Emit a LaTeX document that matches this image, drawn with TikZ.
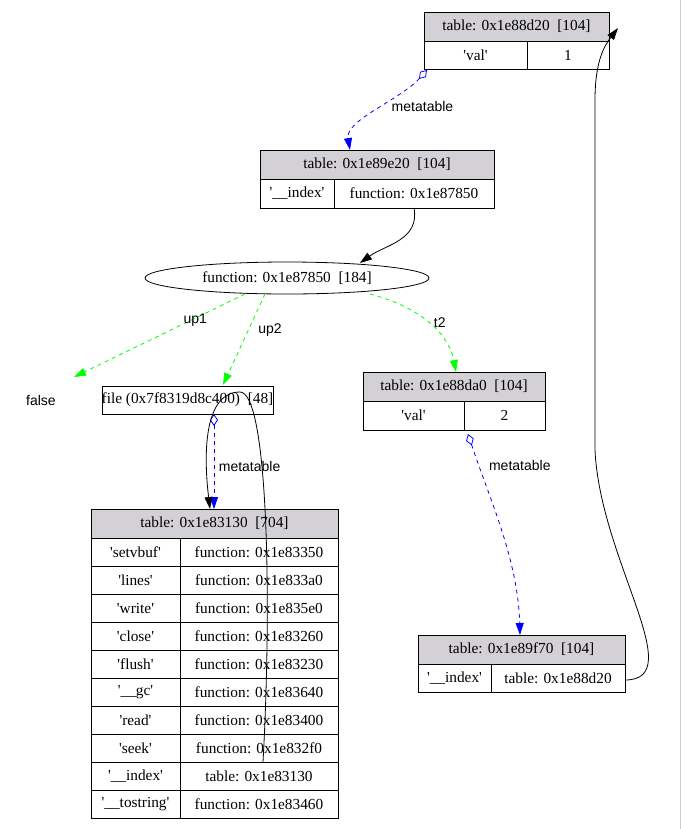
\documentclass[tikz,border=0pt]{standalone}
\usepackage{fontspec}
\setmainfont{Liberation Serif}
\newfontfamily\lsans{Liberation Sans}
\usetikzlibrary{arrows.meta,shapes.geometric}
\definecolor{hdr}{HTML}{D3D0D6}
\newcommand{\q}{\textquotesingle}
\begin{document}
\begin{tikzpicture}[x=0.75pt,y=-0.75pt,font=\fontsize{11.5}{13}\selectfont,line width=0.6pt,
  meta/.style={blue,dashed,{Diamond[open,length=9pt,width=6pt]}-{Triangle[length=9pt,width=6pt]}},
  up/.style={green,dashed,-{Triangle[length=9pt,width=6pt]}},
  ptr/.style={black,-{Triangle[length=9pt,width=6pt]}},
  lab/.style={black,font=\lsans\fontsize{10.5}{12}\selectfont}]
\useasboundingbox (0,0) rectangle (681,829);
\fill[white] (0,0) rectangle (681,829);
\draw[gray!40] (680,0) -- (680,829);
\newcommand{\hdrbox}[6]{\draw[fill=hdr] (#1,#2) rectangle (#3,#4); \node (#6) at ({(#1+#3)/2},{(#2+#4)/2}) {#5};}
\newcommand{\cellbox}[6]{\draw (#1,#2) rectangle (#3,#4); \node (#6) at ({(#1+#3)/2},{(#2+#4)/2}) {#5};}
% T1
\hdrbox{424}{12}{609}{41}{table: 0x1e88d20\ \ [104]}{t1h}
\cellbox{424}{41}{527}{69}{\q val\q}{t1a}
\cellbox{527}{41}{609}{69}{1}{t1b}
\coordinate (t1bot) at (427,70);
% T2
\hdrbox{260}{150}{494}{179}{table: 0x1e89e20\ \ [104]}{t2h}
\cellbox{260}{179}{334}{208}{\q\_\_index\q}{t2a}
\cellbox{334}{179}{494}{208}{function: 0x1e87850}{t2b}
% ellipse
\node[draw,ellipse,minimum width=284pt*0.75,minimum height=32pt*0.75,inner sep=0pt] (fn) at (287,278) {function: 0x1e87850\ \ [184]};
\node[font=\lsans\fontsize{10.5}{12}\selectfont] (false) at (41,400) {false};
% file
\cellbox{102}{386}{273}{414}{file (0x7f8319d8c400)\ \ [48]}{file}
% T3
\hdrbox{363}{372}{545}{401}{table: 0x1e88da0\ \ [104]}{t3h}
\cellbox{363}{401}{464}{430}{\q val\q}{t3a}
\cellbox{464}{401}{545}{430}{2}{t3b}
% T5
\hdrbox{418}{635}{625}{664}{table: 0x1e89f70\ \ [104]}{t5h}
\cellbox{418}{664}{491}{692}{\q\_\_index\q}{t5a}
\cellbox{491}{664}{625}{692}{table: 0x1e88d20}{t5b}
% T4
\hdrbox{91}{509}{338}{538}{table: 0x1e83130\ \ [704]}{t4h}
\foreach \k/\v [count=\i from 0] in {\q setvbuf\q/function: 0x1e83350,\q lines\q/function: 0x1e833a0,\q write\q/function: 0x1e835e0,\q close\q/function: 0x1e83260,\q flush\q/function: 0x1e83230,\q\_\_gc\q/function: 0x1e83640,\q read\q/function: 0x1e83400,\q seek\q/function: 0x1e832f0,\q\_\_index\q/table: 0x1e83130,\q\_\_tostring\q/function: 0x1e83460}{
  \pgfmathsetmacro\ya{538+28*\i}\pgfmathsetmacro\yb{566+28*\i}
  \cellbox{91}{\ya}{180}{\yb}{\k}{t4k\i}
  \cellbox{180}{\ya}{338}{\yb}{\v}{t4v\i}
}
% edges
\draw[meta] (t1bot) .. controls (400,100) and (345,120) .. node[lab,right,pos=0.45,xshift=4pt]{metatable} (350,150);
\draw[ptr] (414,208) .. controls (420,240) and (385,245) .. (360,263);
\draw[up] (245,294) -- node[lab,above right,pos=0.45,xshift=8pt]{up1} (74,377);
\draw[up] (265,294) -- node[lab,right,pos=0.4,xshift=4pt]{up2} (223,385);
\draw[up] (370,294) .. controls (430,310) and (450,340) .. node[lab,right,pos=0.45]{t2} (456,372);
\draw[meta] (214,414) -- node[lab,right,pos=0.55]{metatable} (214,509);
\draw[ptr] (263,762) .. controls (272,600) and (268,392) .. (240,392) .. controls (205,392) and (203,450) .. (210,509);
\draw[meta] (468,434) .. controls (490,500) and (518,560) .. node[lab,right,pos=0.16,xshift=4pt]{metatable} (520,635);
\draw[ptr] (625,680) .. controls (690,680) and (600,560) .. (595,450) -- (595,100) .. controls (595,60) and (605,45) .. (618,28);
\end{tikzpicture}
\end{document}
